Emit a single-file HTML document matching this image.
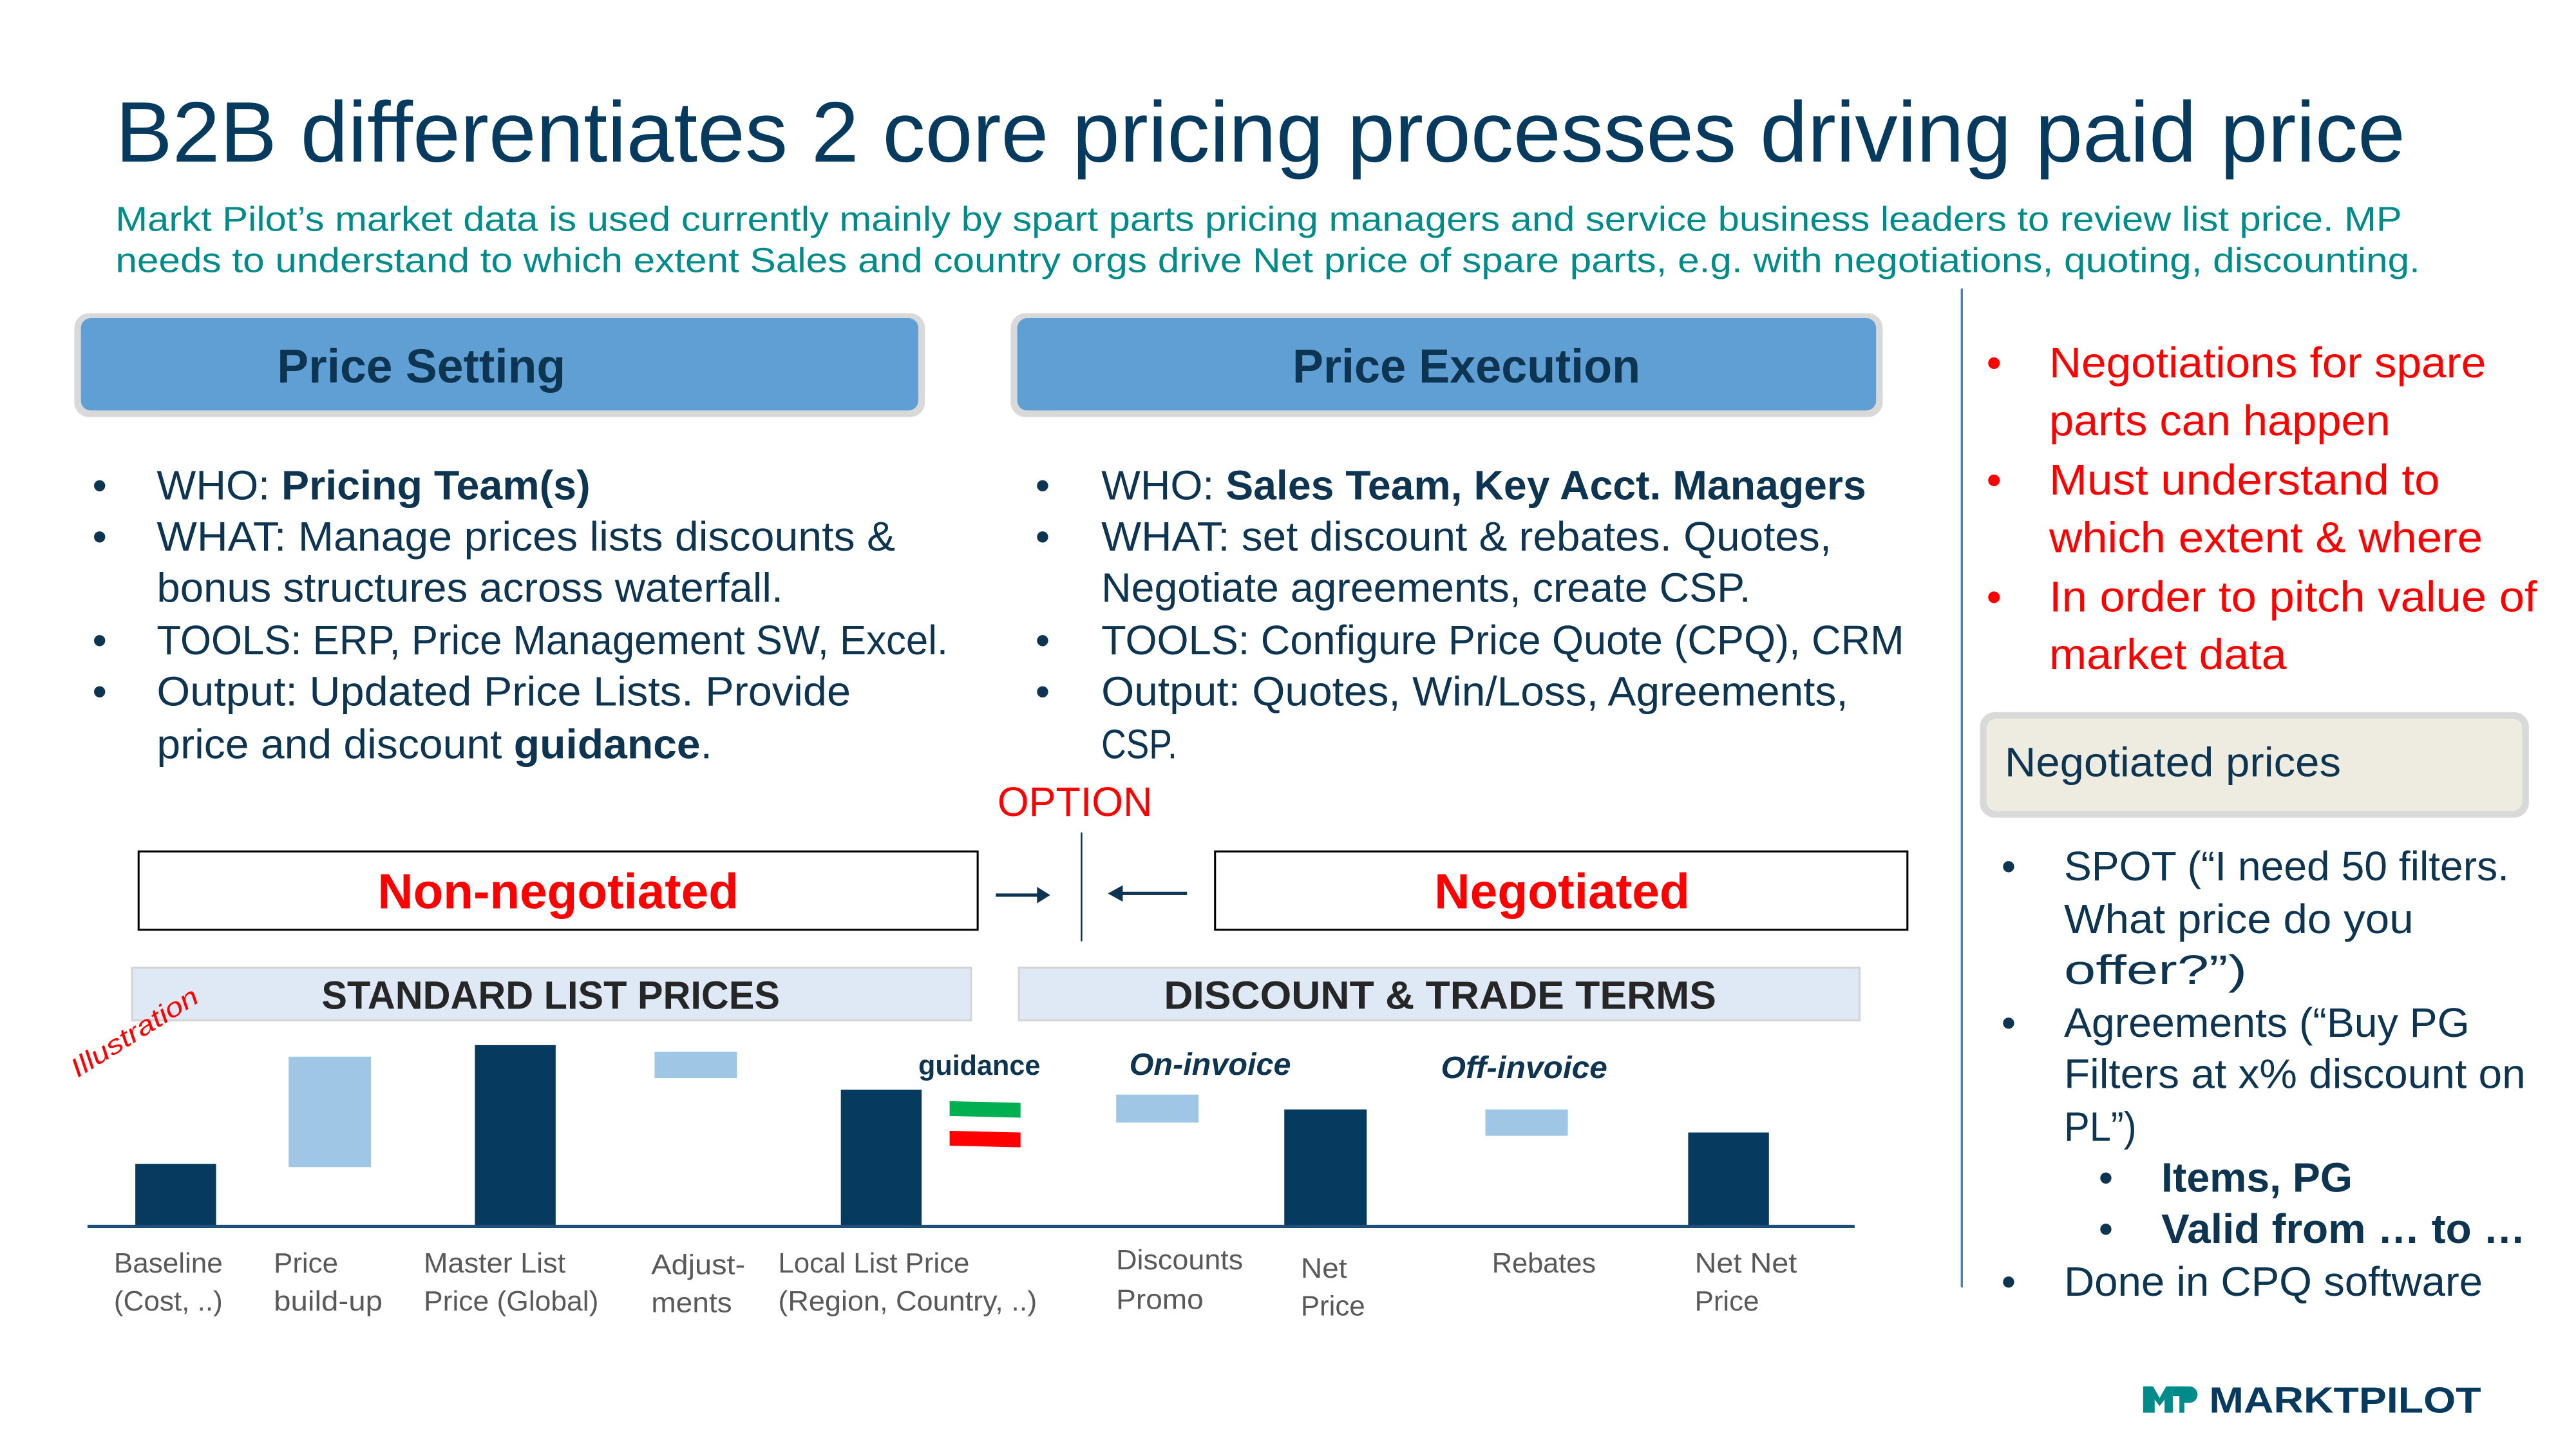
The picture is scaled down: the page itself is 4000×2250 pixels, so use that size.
<!DOCTYPE html>
<html><head><meta charset="utf-8"><style>
html,body{margin:0;padding:0;background:#fff;width:4000px;height:2250px;overflow:hidden}
svg{display:block}
text{font-family:"Liberation Sans",sans-serif}
</style></head><body>
<svg width="4000" height="2250" viewBox="0 0 1562.5 879" xmlns="http://www.w3.org/2000/svg">
<rect width="1562.5" height="879" fill="#fff"/>
<g lengthAdjust="spacingAndGlyphs">
<text x="70" y="98" font-size="52" fill="#063a5e" textLength="1389" lengthAdjust="spacingAndGlyphs">B2B differentiates 2 core pricing processes driving paid price</text>
<text x="70" y="140" font-size="21" fill="#008b8b" textLength="1387" lengthAdjust="spacingAndGlyphs">Markt Pilot’s market data is used currently mainly by spart parts pricing managers and service business leaders to review list price. MP</text>
<text x="70" y="165" font-size="21" fill="#008b8b" textLength="1398" lengthAdjust="spacingAndGlyphs">needs to understand to which extent Sales and country orgs drive Net price of spare parts, e.g. with negotiations, quoting, discounting.</text>
</g>

<!-- header boxes -->
<rect x="45" y="190" width="516" height="63" rx="9" fill="#d9d9d9"/>
<rect x="49" y="193" width="508" height="56" rx="6" fill="#609fd4"/>
<text x="168" y="232" font-size="29" font-weight="bold" fill="#0d3552" textLength="175" lengthAdjust="spacingAndGlyphs">Price Setting</text>
<rect x="613" y="190" width="529" height="63" rx="9" fill="#d9d9d9"/>
<rect x="617" y="193" width="521" height="56" rx="6" fill="#609fd4"/>
<text x="784" y="232" font-size="29" font-weight="bold" fill="#0d3552" textLength="211" lengthAdjust="spacingAndGlyphs">Price Execution</text>

<!-- vertical divider -->
<line x1="1190" y1="175" x2="1190" y2="781" stroke="#4f7fb0" stroke-width="1.3"/>

<!-- left bullets -->
<g font-size="25" fill="#0d3552">
<text x="56" y="303">•</text><text x="56" y="334">•</text><text x="56" y="397">•</text><text x="56" y="428">•</text>
<text x="95" y="303" textLength="263" lengthAdjust="spacingAndGlyphs">WHO: <tspan font-weight="bold">Pricing Team(s)</tspan></text>
<text x="95" y="334" textLength="448" lengthAdjust="spacingAndGlyphs">WHAT: Manage prices lists discounts &amp;</text>
<text x="95" y="365" textLength="380" lengthAdjust="spacingAndGlyphs">bonus structures across waterfall.</text>
<text x="95" y="397" textLength="480" lengthAdjust="spacingAndGlyphs">TOOLS: ERP, Price Management SW, Excel.</text>
<text x="95" y="428" textLength="421" lengthAdjust="spacingAndGlyphs">Output:  Updated Price Lists. Provide</text>
<text x="95" y="460" textLength="337" lengthAdjust="spacingAndGlyphs">price and discount <tspan font-weight="bold">guidance</tspan>.</text>

<text x="628" y="303">•</text><text x="628" y="334">•</text><text x="628" y="397">•</text><text x="628" y="428">•</text>
<text x="668" y="303" textLength="464" lengthAdjust="spacingAndGlyphs">WHO: <tspan font-weight="bold">Sales Team, Key Acct. Managers</tspan></text>
<text x="668" y="334" textLength="443" lengthAdjust="spacingAndGlyphs">WHAT: set discount &amp; rebates. Quotes,</text>
<text x="668" y="365" textLength="394" lengthAdjust="spacingAndGlyphs">Negotiate agreements, create CSP.</text>
<text x="668" y="397" textLength="487" lengthAdjust="spacingAndGlyphs">TOOLS: Configure Price Quote (CPQ), CRM</text>
<text x="668" y="428" textLength="453" lengthAdjust="spacingAndGlyphs">Output: Quotes, Win/Loss, Agreements,</text>
<text x="668" y="460" textLength="46" lengthAdjust="spacingAndGlyphs">CSP.</text>
</g>

<!-- red bullets -->
<g font-size="26" fill="#ff0000">
<text x="1205" y="229">•</text><text x="1205" y="300">•</text><text x="1205" y="371">•</text>
<text x="1243" y="229" textLength="265" lengthAdjust="spacingAndGlyphs">Negotiations for spare</text>
<text x="1243" y="264" textLength="207" lengthAdjust="spacingAndGlyphs">parts can happen</text>
<text x="1243" y="300" textLength="237" lengthAdjust="spacingAndGlyphs">Must understand to</text>
<text x="1243" y="335" textLength="263" lengthAdjust="spacingAndGlyphs">which extent &amp; where</text>
<text x="1243" y="371" textLength="296" lengthAdjust="spacingAndGlyphs">In order to pitch value of</text>
<text x="1243" y="406" textLength="144" lengthAdjust="spacingAndGlyphs">market data</text>
</g>

<rect x="1201" y="432" width="333" height="64" rx="9" fill="#d9d9d9"/>
<rect x="1205" y="436" width="325" height="56" rx="6" fill="#eeece1"/>
<text x="1216" y="471" font-size="25" fill="#0d3552" textLength="204" lengthAdjust="spacingAndGlyphs">Negotiated prices</text>

<g font-size="25" fill="#0d3552">
<text x="1214" y="534">•</text><text x="1214" y="629">•</text><text x="1214" y="786">•</text>
<text x="1273" y="723">•</text><text x="1273" y="754">•</text>
<text x="1252" y="534" textLength="270" lengthAdjust="spacingAndGlyphs">SPOT (“I need 50 filters.</text>
<text x="1252" y="566" textLength="212" lengthAdjust="spacingAndGlyphs">What price do you</text>
<text x="1252" y="597" textLength="111" lengthAdjust="spacingAndGlyphs">offer?”)</text>
<text x="1252" y="629" textLength="246" lengthAdjust="spacingAndGlyphs">Agreements (“Buy PG</text>
<text x="1252" y="660" textLength="280" lengthAdjust="spacingAndGlyphs">Filters at x% discount on</text>
<text x="1252" y="692" textLength="44" lengthAdjust="spacingAndGlyphs">PL”)</text>
<text x="1311" y="723" font-weight="bold" textLength="116" lengthAdjust="spacingAndGlyphs">Items, PG</text>
<text x="1311" y="754" font-weight="bold" textLength="221" lengthAdjust="spacingAndGlyphs">Valid from … to …</text>
<text x="1252" y="786" textLength="254" lengthAdjust="spacingAndGlyphs">Done in CPQ software</text>
</g>

<!-- option row -->
<text x="605" y="495" font-size="25" fill="#ff0000" textLength="94" lengthAdjust="spacingAndGlyphs">OPTION</text>
<rect x="84" y="516.5" width="509" height="47.5" fill="none" stroke="#000" stroke-width="1.2"/>
<text x="229" y="551" font-size="30" font-weight="bold" fill="#ff0000" textLength="219" lengthAdjust="spacingAndGlyphs">Non-negotiated</text>
<rect x="737" y="516.5" width="420" height="47.5" fill="none" stroke="#000" stroke-width="1.2"/>
<text x="870" y="551" font-size="30" font-weight="bold" fill="#ff0000" textLength="155" lengthAdjust="spacingAndGlyphs">Negotiated</text>
<line x1="604" y1="543" x2="632" y2="543" stroke="#0d3552" stroke-width="2"/>
<polygon points="637,543 629,538 629,548" fill="#0d3552"/>
<line x1="656" y1="505" x2="656" y2="571" stroke="#0d3552" stroke-width="1"/>
<line x1="678" y1="542" x2="720" y2="542" stroke="#0d3552" stroke-width="2"/>
<polygon points="672,542 681,537 681,547" fill="#0d3552"/>

<!-- section bars -->
<rect x="80" y="587" width="509" height="32" fill="#dee9f5" stroke="#d4d4d4" stroke-width="1.2"/>
<text x="195" y="612" font-size="24" font-weight="bold" fill="#262626" textLength="278" lengthAdjust="spacingAndGlyphs">STANDARD LIST PRICES</text>
<rect x="618" y="587" width="510" height="32" fill="#dee9f5" stroke="#d4d4d4" stroke-width="1.2"/>
<text x="706" y="612" font-size="24" font-weight="bold" fill="#262626" textLength="335" lengthAdjust="spacingAndGlyphs">DISCOUNT &amp; TRADE TERMS</text>

<!-- chart -->
<text x="0" y="0" font-size="16" fill="#ff0000" font-style="italic" transform="translate(47,654) rotate(-32)" textLength="88" lengthAdjust="spacingAndGlyphs">Illustration</text>
<g fill="#063a5e">
<rect x="82" y="706" width="49" height="38"/>
<rect x="288" y="634" width="49" height="110"/>
<rect x="510" y="661" width="49" height="83"/>
<rect x="779" y="673" width="50" height="71"/>
<rect x="1024" y="687" width="49" height="57"/>
</g>
<g fill="#a0c6e6">
<rect x="175" y="641" width="50" height="67"/>
<rect x="397" y="638" width="50" height="16"/>
<rect x="677" y="664" width="50" height="17"/>
<rect x="901" y="673" width="50" height="16"/>
</g>
<polygon points="576,668 619,669 619,678 576,677" fill="#00b050"/>
<polygon points="576,686 619,687 619,696 576,695" fill="#ff0000"/>
<line x1="53" y1="744" x2="1125" y2="744" stroke="#1f4e79" stroke-width="2"/>
<text x="557" y="652" font-size="17" font-weight="bold" fill="#0d3552" textLength="74" lengthAdjust="spacingAndGlyphs">guidance</text>
<text x="685" y="652" font-size="19" font-weight="bold" font-style="italic" fill="#0d3552" textLength="98" lengthAdjust="spacingAndGlyphs">On-invoice</text>
<text x="874" y="654" font-size="19" font-weight="bold" font-style="italic" fill="#0d3552" textLength="101" lengthAdjust="spacingAndGlyphs">Off-invoice</text>

<g font-size="17" fill="#595959">
<text x="69" y="772" textLength="66" lengthAdjust="spacingAndGlyphs">Baseline</text>
<text x="69" y="795" textLength="66" lengthAdjust="spacingAndGlyphs">(Cost, ..)</text>
<text x="166" y="772" textLength="39" lengthAdjust="spacingAndGlyphs">Price</text>
<text x="166" y="795" textLength="66" lengthAdjust="spacingAndGlyphs">build-up</text>
<text x="257" y="772" textLength="86" lengthAdjust="spacingAndGlyphs">Master List</text>
<text x="257" y="795" textLength="106" lengthAdjust="spacingAndGlyphs">Price (Global)</text>
<text x="395" y="773" textLength="57" lengthAdjust="spacingAndGlyphs">Adjust-</text>
<text x="395" y="796" textLength="49" lengthAdjust="spacingAndGlyphs">ments</text>
<text x="472" y="772" textLength="116" lengthAdjust="spacingAndGlyphs">Local List Price</text>
<text x="472" y="795" textLength="157" lengthAdjust="spacingAndGlyphs">(Region, Country, ..)</text>
<text x="677" y="770" textLength="77" lengthAdjust="spacingAndGlyphs">Discounts</text>
<text x="677" y="794" textLength="53" lengthAdjust="spacingAndGlyphs">Promo</text>
<text x="789" y="775" textLength="28" lengthAdjust="spacingAndGlyphs">Net</text>
<text x="789" y="798" textLength="39" lengthAdjust="spacingAndGlyphs">Price</text>
<text x="905" y="772" textLength="63" lengthAdjust="spacingAndGlyphs">Rebates</text>
<text x="1028" y="772" textLength="62" lengthAdjust="spacingAndGlyphs">Net Net</text>
<text x="1028" y="795" textLength="39" lengthAdjust="spacingAndGlyphs">Price</text>
</g>

<!-- logo -->
<g fill="#008b8b">
<polygon points="1300,841 1306,841 1310,848 1314,841 1318,841 1318,857 1313,857 1313,849 1310,853 1307,849 1307,857 1300,857"/>
<path d="M1318,841 h10 a5,5 0 0 1 0,10 h-6 v-4 h-4 z"/>
<rect x="1322" y="851" width="3" height="6"/>
</g>
<text x="1340" y="857" font-size="22" font-weight="bold" fill="#063a5e" textLength="165" lengthAdjust="spacingAndGlyphs">MARKTPILOT</text>
</svg>
</body></html>
